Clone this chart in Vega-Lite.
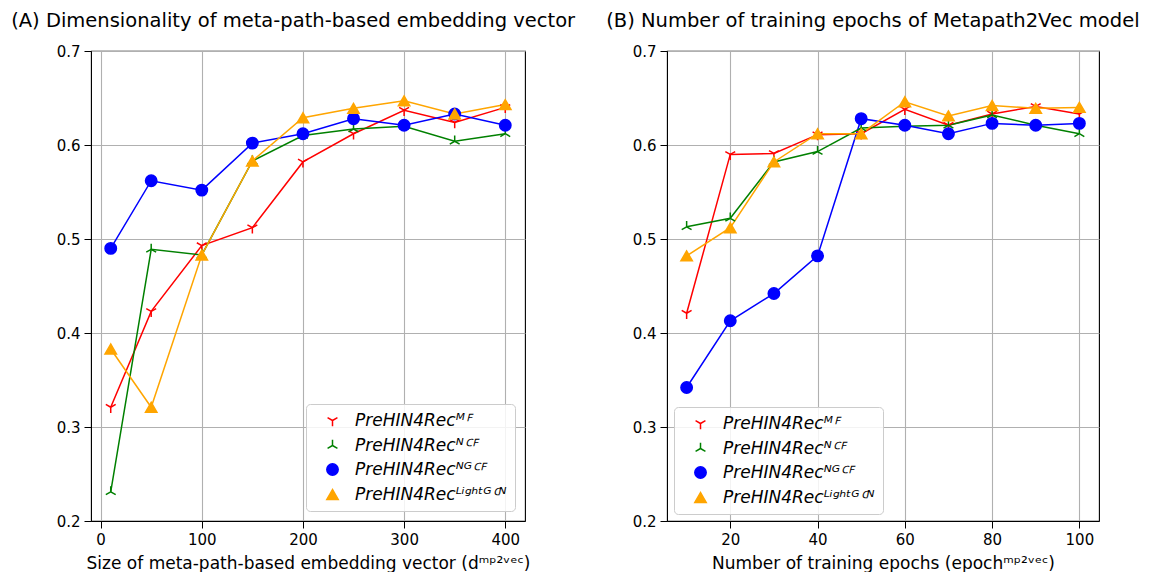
{
  "$schema": "https://vega.github.io/schema/vega-lite/v6.json",
  "padding": {"left": 10, "top": 9, "right": 0, "bottom": 0},
  "background": "white",
  "datasets": {
    "dim": [
      {"x": 10, "model": "PreHIN4Recᴹꟳ", "v": 0.321},
      {"x": 50, "model": "PreHIN4Recᴹꟳ", "v": 0.423},
      {"x": 100, "model": "PreHIN4Recᴹꟳ", "v": 0.493},
      {"x": 150, "model": "PreHIN4Recᴹꟳ", "v": 0.512},
      {"x": 200, "model": "PreHIN4Recᴹꟳ", "v": 0.582},
      {"x": 250, "model": "PreHIN4Recᴹꟳ", "v": 0.612},
      {"x": 300, "model": "PreHIN4Recᴹꟳ", "v": 0.637},
      {"x": 350, "model": "PreHIN4Recᴹꟳ", "v": 0.624},
      {"x": 400, "model": "PreHIN4Recᴹꟳ", "v": 0.640},
      {"x": 10, "model": "PreHIN4Recᴺꟲꟳ", "v": 0.231},
      {"x": 50, "model": "PreHIN4Recᴺꟲꟳ", "v": 0.489},
      {"x": 100, "model": "PreHIN4Recᴺꟲꟳ", "v": 0.483},
      {"x": 150, "model": "PreHIN4Recᴺꟲꟳ", "v": 0.583},
      {"x": 200, "model": "PreHIN4Recᴺꟲꟳ", "v": 0.610},
      {"x": 250, "model": "PreHIN4Recᴺꟲꟳ", "v": 0.617},
      {"x": 300, "model": "PreHIN4Recᴺꟲꟳ", "v": 0.620},
      {"x": 350, "model": "PreHIN4Recᴺꟲꟳ", "v": 0.604},
      {"x": 400, "model": "PreHIN4Recᴺꟲꟳ", "v": 0.612},
      {"x": 10, "model": "PreHIN4Recᴺᴳꟲꟳ", "v": 0.490},
      {"x": 50, "model": "PreHIN4Recᴺᴳꟲꟳ", "v": 0.562},
      {"x": 100, "model": "PreHIN4Recᴺᴳꟲꟳ", "v": 0.552},
      {"x": 150, "model": "PreHIN4Recᴺᴳꟲꟳ", "v": 0.602},
      {"x": 200, "model": "PreHIN4Recᴺᴳꟲꟳ", "v": 0.612},
      {"x": 250, "model": "PreHIN4Recᴺᴳꟲꟳ", "v": 0.628},
      {"x": 300, "model": "PreHIN4Recᴺᴳꟲꟳ", "v": 0.621},
      {"x": 350, "model": "PreHIN4Recᴺᴳꟲꟳ", "v": 0.633},
      {"x": 400, "model": "PreHIN4Recᴺᴳꟲꟳ", "v": 0.621},
      {"x": 10, "model": "PreHIN4Recᴸⁱᵍʰᵗᴳꟲᴺ", "v": 0.383},
      {"x": 50, "model": "PreHIN4Recᴸⁱᵍʰᵗᴳꟲᴺ", "v": 0.321},
      {"x": 100, "model": "PreHIN4Recᴸⁱᵍʰᵗᴳꟲᴺ", "v": 0.483},
      {"x": 150, "model": "PreHIN4Recᴸⁱᵍʰᵗᴳꟲᴺ", "v": 0.583},
      {"x": 200, "model": "PreHIN4Recᴸⁱᵍʰᵗᴳꟲᴺ", "v": 0.629},
      {"x": 250, "model": "PreHIN4Recᴸⁱᵍʰᵗᴳꟲᴺ", "v": 0.639},
      {"x": 300, "model": "PreHIN4Recᴸⁱᵍʰᵗᴳꟲᴺ", "v": 0.647},
      {"x": 350, "model": "PreHIN4Recᴸⁱᵍʰᵗᴳꟲᴺ", "v": 0.633},
      {"x": 400, "model": "PreHIN4Recᴸⁱᵍʰᵗᴳꟲᴺ", "v": 0.643}
    ],
    "epochs": [
      {"x": 10, "model": "PreHIN4Recᴹꟳ", "v": 0.421},
      {"x": 20, "model": "PreHIN4Recᴹꟳ", "v": 0.590},
      {"x": 30, "model": "PreHIN4Recᴹꟳ", "v": 0.591},
      {"x": 40, "model": "PreHIN4Recᴹꟳ", "v": 0.611},
      {"x": 50, "model": "PreHIN4Recᴹꟳ", "v": 0.612},
      {"x": 60, "model": "PreHIN4Recᴹꟳ", "v": 0.638},
      {"x": 70, "model": "PreHIN4Recᴹꟳ", "v": 0.621},
      {"x": 80, "model": "PreHIN4Recᴹꟳ", "v": 0.633},
      {"x": 90, "model": "PreHIN4Recᴹꟳ", "v": 0.641},
      {"x": 100, "model": "PreHIN4Recᴹꟳ", "v": 0.633},
      {"x": 10, "model": "PreHIN4Recᴺꟲꟳ", "v": 0.513},
      {"x": 20, "model": "PreHIN4Recᴺꟲꟳ", "v": 0.522},
      {"x": 30, "model": "PreHIN4Recᴺꟲꟳ", "v": 0.582},
      {"x": 40, "model": "PreHIN4Recᴺꟲꟳ", "v": 0.593},
      {"x": 50, "model": "PreHIN4Recᴺꟲꟳ", "v": 0.618},
      {"x": 60, "model": "PreHIN4Recᴺꟲꟳ", "v": 0.620},
      {"x": 70, "model": "PreHIN4Recᴺꟲꟳ", "v": 0.621},
      {"x": 80, "model": "PreHIN4Recᴺꟲꟳ", "v": 0.632},
      {"x": 90, "model": "PreHIN4Recᴺꟲꟳ", "v": 0.621},
      {"x": 100, "model": "PreHIN4Recᴺꟲꟳ", "v": 0.612},
      {"x": 10, "model": "PreHIN4Recᴺᴳꟲꟳ", "v": 0.342},
      {"x": 20, "model": "PreHIN4Recᴺᴳꟲꟳ", "v": 0.413},
      {"x": 30, "model": "PreHIN4Recᴺᴳꟲꟳ", "v": 0.442},
      {"x": 40, "model": "PreHIN4Recᴺᴳꟲꟳ", "v": 0.482},
      {"x": 50, "model": "PreHIN4Recᴺᴳꟲꟳ", "v": 0.628},
      {"x": 60, "model": "PreHIN4Recᴺᴳꟲꟳ", "v": 0.621},
      {"x": 70, "model": "PreHIN4Recᴺᴳꟲꟳ", "v": 0.612},
      {"x": 80, "model": "PreHIN4Recᴺᴳꟲꟳ", "v": 0.623},
      {"x": 90, "model": "PreHIN4Recᴺᴳꟲꟳ", "v": 0.621},
      {"x": 100, "model": "PreHIN4Recᴺᴳꟲꟳ", "v": 0.623},
      {"x": 10, "model": "PreHIN4Recᴸⁱᵍʰᵗᴳꟲᴺ", "v": 0.482},
      {"x": 20, "model": "PreHIN4Recᴸⁱᵍʰᵗᴳꟲᴺ", "v": 0.512},
      {"x": 30, "model": "PreHIN4Recᴸⁱᵍʰᵗᴳꟲᴺ", "v": 0.582},
      {"x": 40, "model": "PreHIN4Recᴸⁱᵍʰᵗᴳꟲᴺ", "v": 0.612},
      {"x": 50, "model": "PreHIN4Recᴸⁱᵍʰᵗᴳꟲᴺ", "v": 0.612},
      {"x": 60, "model": "PreHIN4Recᴸⁱᵍʰᵗᴳꟲᴺ", "v": 0.646},
      {"x": 70, "model": "PreHIN4Recᴸⁱᵍʰᵗᴳꟲᴺ", "v": 0.631},
      {"x": 80, "model": "PreHIN4Recᴸⁱᵍʰᵗᴳꟲᴺ", "v": 0.642},
      {"x": 90, "model": "PreHIN4Recᴸⁱᵍʰᵗᴳꟲᴺ", "v": 0.639},
      {"x": 100, "model": "PreHIN4Recᴸⁱᵍʰᵗᴳꟲᴺ", "v": 0.640}
    ]
  },
  "spacing": 29,
  "resolve": {"scale": {"x": "independent"}, "legend": {"shape": "independent", "fill": "independent", "stroke": "independent", "size": "independent"}},
  "hconcat": [
    {
      "width": 434,
      "height": 470,
      "title": {"text": "(A) Dimensionality of meta-path-based embedding vector", "anchor": "start", "dx": -45, "offset": 13},
      "data": {"name": "dim"},
      "encoding": {
        "x": {"field": "x", "type": "quantitative", "scale": {"domain": [-9.5, 419.5], "nice": false, "zero": false},
              "axis": {"values": [0, 100, 200, 300, 400], "title": "Size of meta-path-based embedding vector (dᵐᵖ²ᵛᵉᶜ)"}},
        "y": {"field": "v", "type": "quantitative", "scale": {"domain": [0.2, 0.7], "nice": false, "zero": false},
              "axis": {"values": [0.2, 0.3, 0.4, 0.5, 0.6, 0.7], "format": ".1f", "title": null}}
      },
      "layer": [
        {
          "mark": {"type": "line", "strokeWidth": 1.5},
          "encoding": {
            "color": {"field": "model", "type": "nominal",
              "scale": {"domain": ["PreHIN4Recᴹꟳ", "PreHIN4Recᴺꟲꟳ", "PreHIN4Recᴺᴳꟲꟳ", "PreHIN4Recᴸⁱᵍʰᵗᴳꟲᴺ"], "range": ["#ff0000", "#008000", "#0000ff", "#ffa500"]},
              "legend": null}
          }
        },
        {
          "mark": {"type": "point", "opacity": 1, "strokeWidth": 1.5},
          "encoding": {
            "shape": {"field": "model", "type": "nominal",
              "scale": {"domain": ["PreHIN4Recᴹꟳ", "PreHIN4Recᴺꟲꟳ", "PreHIN4Recᴺᴳꟲꟳ", "PreHIN4Recᴸⁱᵍʰᵗᴳꟲᴺ"], "range": ["M0,0L0,1M0,0L-0.866,-0.5M0,0L0.866,-0.5", "M0,0L0,-1M0,0L-0.866,0.5M0,0L0.866,0.5", "circle", "triangle-up"]},
              "legend": {"orient": "bottom-right", "offset": 10, "title": null}},
            "size": {"field": "model", "type": "nominal",
              "scale": {"domain": ["PreHIN4Recᴹꟳ", "PreHIN4Recᴺꟲꟳ", "PreHIN4Recᴺᴳꟲꟳ", "PreHIN4Recᴸⁱᵍʰᵗᴳꟲᴺ"], "range": [130, 130, 125, 190]},
              "legend": {"orient": "bottom-right", "offset": 10, "title": null}},
            "fill": {"field": "model", "type": "nominal",
              "scale": {"domain": ["PreHIN4Recᴹꟳ", "PreHIN4Recᴺꟲꟳ", "PreHIN4Recᴺᴳꟲꟳ", "PreHIN4Recᴸⁱᵍʰᵗᴳꟲᴺ"], "range": ["#ff0000", "#008000", "#0000ff", "#ffa500"]},
              "legend": {"orient": "bottom-right", "offset": 10, "title": null}},
            "stroke": {"field": "model", "type": "nominal",
              "scale": {"domain": ["PreHIN4Recᴹꟳ", "PreHIN4Recᴺꟲꟳ", "PreHIN4Recᴺᴳꟲꟳ", "PreHIN4Recᴸⁱᵍʰᵗᴳꟲᴺ"], "range": ["#ff0000", "#008000", "#0000ff", "#ffa500"]},
              "legend": {"orient": "bottom-right", "offset": 10, "title": null}}
          }
        }
      ]
    },
    {
      "width": 432,
      "height": 470,
      "title": {"text": "(B) Number of training epochs of Metapath2Vec model", "anchor": "start", "dx": -26, "offset": 13},
      "data": {"name": "epochs"},
      "encoding": {
        "x": {"field": "x", "type": "quantitative", "scale": {"domain": [5.5, 104.5], "nice": false, "zero": false},
              "axis": {"values": [20, 40, 60, 80, 100], "title": "Number of training epochs (epochᵐᵖ²ᵛᵉᶜ)"}},
        "y": {"field": "v", "type": "quantitative", "scale": {"domain": [0.2, 0.7], "nice": false, "zero": false},
              "axis": {"values": [0.2, 0.3, 0.4, 0.5, 0.6, 0.7], "format": ".1f", "title": null}}
      },
      "layer": [
        {
          "mark": {"type": "line", "strokeWidth": 1.5},
          "encoding": {
            "color": {"field": "model", "type": "nominal",
              "scale": {"domain": ["PreHIN4Recᴹꟳ", "PreHIN4Recᴺꟲꟳ", "PreHIN4Recᴺᴳꟲꟳ", "PreHIN4Recᴸⁱᵍʰᵗᴳꟲᴺ"], "range": ["#ff0000", "#008000", "#0000ff", "#ffa500"]},
              "legend": null}
          }
        },
        {
          "mark": {"type": "point", "opacity": 1, "strokeWidth": 1.5},
          "encoding": {
            "shape": {"field": "model", "type": "nominal",
              "scale": {"domain": ["PreHIN4Recᴹꟳ", "PreHIN4Recᴺꟲꟳ", "PreHIN4Recᴺᴳꟲꟳ", "PreHIN4Recᴸⁱᵍʰᵗᴳꟲᴺ"], "range": ["M0,0L0,1M0,0L-0.866,-0.5M0,0L0.866,-0.5", "M0,0L0,-1M0,0L-0.866,0.5M0,0L0.866,0.5", "circle", "triangle-up"]},
              "legend": {"orient": "bottom-left", "offset": 7, "title": null}},
            "size": {"field": "model", "type": "nominal",
              "scale": {"domain": ["PreHIN4Recᴹꟳ", "PreHIN4Recᴺꟲꟳ", "PreHIN4Recᴺᴳꟲꟳ", "PreHIN4Recᴸⁱᵍʰᵗᴳꟲᴺ"], "range": [130, 130, 125, 190]},
              "legend": {"orient": "bottom-left", "offset": 7, "title": null}},
            "fill": {"field": "model", "type": "nominal",
              "scale": {"domain": ["PreHIN4Recᴹꟳ", "PreHIN4Recᴺꟲꟳ", "PreHIN4Recᴺᴳꟲꟳ", "PreHIN4Recᴸⁱᵍʰᵗᴳꟲᴺ"], "range": ["#ff0000", "#008000", "#0000ff", "#ffa500"]},
              "legend": {"orient": "bottom-left", "offset": 7, "title": null}},
            "stroke": {"field": "model", "type": "nominal",
              "scale": {"domain": ["PreHIN4Recᴹꟳ", "PreHIN4Recᴺꟲꟳ", "PreHIN4Recᴺᴳꟲꟳ", "PreHIN4Recᴸⁱᵍʰᵗᴳꟲᴺ"], "range": ["#ff0000", "#008000", "#0000ff", "#ffa500"]},
              "legend": {"orient": "bottom-left", "offset": 7, "title": null}}
          }
        }
      ]
    }
  ],
  "config": {
    "font": "DejaVu Sans",
    "view": {"stroke": "black", "strokeWidth": 1.1},
    "title": {"font": "DejaVu Sans", "fontSize": 19.5, "fontWeight": "normal", "color": "black"},
    "axis": {
      "labelFont": "DejaVu Sans", "labelFontSize": 15, "labelColor": "black",
      "titleFont": "DejaVu Sans", "titleFontSize": 17, "titleFontWeight": "normal", "titleColor": "black",
      "domainColor": "black", "tickColor": "black", "tickSize": 7, "labelPadding": 4,
      "gridColor": "#b0b0b0", "gridWidth": 1.1, "titlePadding": 8
    },
    "legend": {
      "padding": 8, "strokeColor": "#cccccc", "fillColor": "rgba(255,255,255,0.85)", "cornerRadius": 4,
      "labelFont": "DejaVu Sans", "labelFontStyle": "italic", "labelFontSize": 17, "labelColor": "black", "labelLimit": 400,
      "symbolStrokeWidth": 1.5, "rowPadding": 6, "labelOffset": 14, "symbolOffset": 10
    }
  }
}
